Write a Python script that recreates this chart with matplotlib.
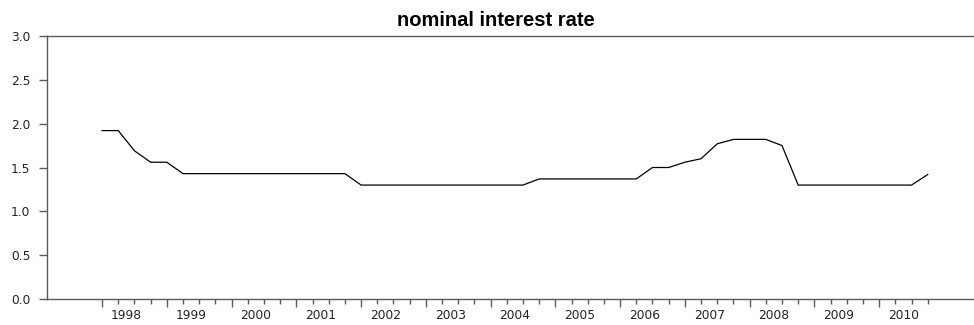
import matplotlib.pyplot as plt
import numpy as np

plt.rcParams['font.family'] = ['Liberation Sans', 'DejaVu Sans']

# quarterly observations, 1998Q1 - 2010Q4
years = list(range(1998, 2011))
rate = [1.92, 1.92, 1.69, 1.56,
	1.56, 1.43, 1.43, 1.43,
	1.43, 1.43, 1.43, 1.43,
	1.43, 1.43, 1.43, 1.43,
	1.30, 1.30, 1.30, 1.30,
	1.30, 1.30, 1.30, 1.30,
	1.30, 1.30, 1.30, 1.37,
	1.37, 1.37, 1.37, 1.37,
	1.37, 1.37, 1.50, 1.50,
	1.56, 1.60, 1.77, 1.82,
	1.82, 1.82, 1.75, 1.30,
	1.30, 1.30, 1.30, 1.30,
	1.30, 1.30, 1.30, 1.42]

axis_col = '#5a5a5a'
label_font = 'DejaVu Sans'

fig = plt.figure(figsize=(9.74, 3.25), dpi=100)
ax = fig.add_axes([0.0483, 0.0791, 0.9517, 0.811])

q = np.arange(len(rate))
ax.plot(q, rate, color='black', linewidth=0.9)

ax.set_xlim(-3.4, 53.86)
ax.set_ylim(0, 3.0)

for side in ['left', 'top', 'bottom']:
	ax.spines[side].set_color(axis_col)
	ax.spines[side].set_linewidth(1.0)
ax.spines['right'].set_visible(False)

yt = np.arange(0, 3.01, 0.5)
ax.set_yticks(yt)
ax.set_yticklabels([f"{v:.1f}" for v in yt], fontfamily=label_font)
ax.tick_params(axis='y', direction='out', length=6, width=1.0, color=axis_col,
	pad=6, labelsize=8.8, labelcolor='#222222')

# year ticks at Q1, quarter ticks in between
ax.set_xticks([4 * k for k in range(len(years))])
ax.set_xticklabels([])
ax.set_xticks(q, minor=True)
ax.tick_params(axis='x', which='major', direction='out', length=6, width=1.0, color=axis_col)
ax.tick_params(axis='x', which='minor', direction='out', length=3.5, width=1.0, color=axis_col)

# year label centred over its four quarters
for k, yr in enumerate(years):
	ax.text(4 * k + 1.5, -0.06, str(yr), transform=ax.get_xaxis_transform(),
		ha='center', va='center', fontsize=8.8, fontfamily=label_font, color='#222222')

fig.text(496 / 974, 1 - 20 / 325, "nominal interest rate", ha='center', va='center',
	fontsize=14.5, fontweight='bold', color='black')

fig.savefig("out.png", dpi=100)
